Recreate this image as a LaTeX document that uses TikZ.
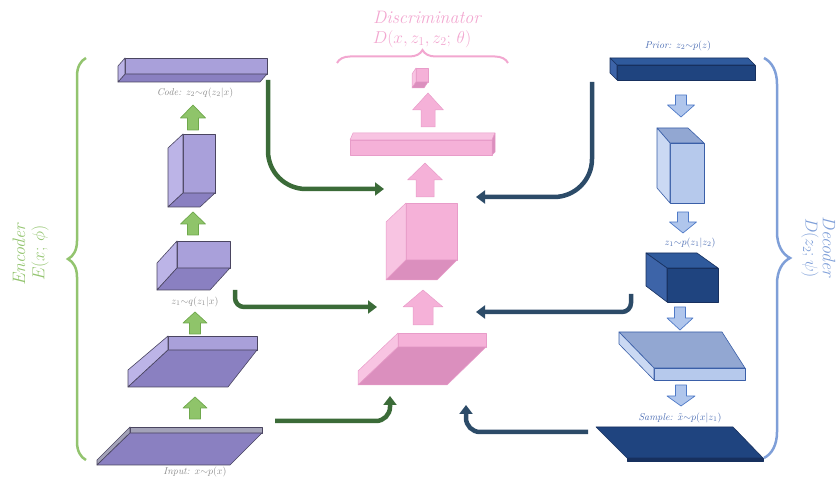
\documentclass[tikz,border=0pt]{standalone}
\usetikzlibrary{arrows.meta,decorations.pathreplacing}
\definecolor{encF}{HTML}{A9A0DA}
\definecolor{encD}{HTML}{8A80C1}
\definecolor{encL}{HTML}{BCB4E7}
\definecolor{encO}{HTML}{4A4560}
\definecolor{encS}{HTML}{A3A2B8}
\definecolor{pkF}{HTML}{F5B1D8}
\definecolor{pkL}{HTML}{F8C4E2}
\definecolor{pkD}{HTML}{DB8FBE}
\definecolor{pkO}{HTML}{E89CC9}
\definecolor{grF}{HTML}{8FC46A}
\definecolor{grO}{HTML}{6FA84C}
\definecolor{blF}{HTML}{B0C6EC}
\definecolor{blO}{HTML}{4F7AC7}
\definecolor{navF}{HTML}{1F447F}
\definecolor{navT}{HTML}{2F5A9C}
\definecolor{navL}{HTML}{3D64A8}
\definecolor{navO}{HTML}{17305E}
\definecolor{ltF}{HTML}{B6C9EC}
\definecolor{ltT}{HTML}{92A7D2}
\definecolor{ltL}{HTML}{CBD9F3}
\definecolor{ltO}{HTML}{3A5FA8}
\definecolor{encConn}{HTML}{3B6B38}
\definecolor{decConn}{HTML}{2C4B68}
\definecolor{encText}{HTML}{93C46F}
\definecolor{decText}{HTML}{7F9FD8}
\definecolor{pinkText}{HTML}{F2A7D0}
\definecolor{grayText}{HTML}{8C8C8C}
\definecolor{blueText}{HTML}{4A6CB3}
\newcommand\blockarrow[7]{% cx, tip y, head base y, tail y, half head, half shaft, style
  \filldraw[#7] (#1,#2) -- (#1+#5,#3) -- (#1+#6,#3) -- (#1+#6,#4) -- (#1-#6,#4) -- (#1-#6,#3) -- (#1-#5,#3) -- cycle;}
\tikzset{
  encface/.style={draw=encO, line width=0.6pt, line join=round},
  pkface/.style={draw=pkO, line width=0.5pt, line join=round},
  navface/.style={draw=navO, line width=0.6pt, line join=round},
  ltface/.style={draw=ltO, line width=0.6pt, line join=round},
  grarrow/.style={fill=grF, draw=grO, line width=0.7pt, line join=round},
  pkarrow/.style={fill=pkF, draw=pkO, line width=0.5pt, line join=round},
  blarrow/.style={fill=blF, draw=blO, line width=0.7pt, line join=round},
  encconn/.style={draw=encConn, line width=4.5pt, -{Triangle[width=13pt,length=9pt]}},
  decconn/.style={draw=decConn, line width=4.5pt, -{Triangle[width=13pt,length=9pt]}},
  graylabel/.style={text=grayText, font=\fontsize{10}{11}\selectfont\itshape, inner sep=0pt},
  bluelabel/.style={text=blueText, font=\fontsize{10}{11}\selectfont\itshape, inner sep=0pt},
  bigtitle/.style={font=\fontsize{18}{20}\selectfont\itshape, inner sep=0pt},
}
\begin{document}
\begin{tikzpicture}[x=1pt,y=-1pt]
\useasboundingbox (0,0) rectangle (839,478);
% ================= ENCODER =================
% code bar
\filldraw[encface, fill=encF] (125,58) rectangle (267,74);
\filldraw[encface, fill=encD] (125,74) -- (267,74) -- (260,82) -- (118,82) -- cycle;
\filldraw[encface, fill=encL] (125,58) -- (125,74) -- (118,82) -- (118,66) -- cycle;
\node[graylabel] (codelab) at (195,93) {Code: $z_2{\sim}q(z_2|x)$};
% tall box
\filldraw[encface, fill=encF] (183,134) rectangle (215,193);
\filldraw[encface, fill=encL] (183,134) -- (183,193) -- (168,207) -- (168,148) -- cycle;
\filldraw[encface, fill=encD] (183,193) -- (215,193) -- (200,207) -- (168,207) -- cycle;
% z1 cube
\filldraw[encface, fill=encF] (177,241) rectangle (230,268);
\filldraw[encface, fill=encL] (177,241) -- (177,268) -- (157,290) -- (157,263) -- cycle;
\filldraw[encface, fill=encD] (177,268) -- (230,268) -- (210,290) -- (157,290) -- cycle;
\node[graylabel] (z1lab) at (195,302) {$z_1{\sim}q(z_1|x)$};
% middle slab
\filldraw[encface, fill=encF] (168,336) rectangle (257,350);
\filldraw[encface, fill=encL] (168,336) -- (168,350) -- (128,387) -- (128,370) -- cycle;
\filldraw[encface, fill=encD] (168,350) -- (257,350) -- (228,387) -- (128,387) -- cycle;
% input slab
\filldraw[encface, fill=encS] (130,427) rectangle (262,433);
\filldraw[encface, fill=encS] (130,427) -- (130,433) -- (97,465) -- (97,460) -- cycle;
\filldraw[encface, fill=encD] (130,433) -- (262,433) -- (230,465) -- (97,465) -- cycle;
\node[graylabel] (inlab) at (195,472) {Input: $x{\sim}p(x)$};
% green arrows
\blockarrow{193}{105}{118}{130}{12.5}{5.5}{grarrow}
\blockarrow{193}{212}{224}{235}{12.5}{5.5}{grarrow}
\blockarrow{195}{312}{323}{334}{12}{5.5}{grarrow}
\blockarrow{195}{397}{408}{419}{12}{5.5}{grarrow}
% encoder brace and title
\draw[encText, line width=2.5pt, decorate, decoration={brace, amplitude=18pt}] (86,460) -- (86,58);
\node[bigtitle, text=encText, rotate=90] (encname) at (19,255) {Encoder};
\node[bigtitle, text=encText, rotate=90] (encfun) at (40,253) {$E(x;\,\phi)$};
% ================= DISCRIMINATOR =================
\node[bigtitle, text=pinkText] (discname) at (427,17) {Discriminator};
\node[bigtitle, text=pinkText] (discfun) at (422,39) {$D(x, z_1, z_2;\,\theta)$};
\draw[pinkText, line width=2pt, decorate, decoration={brace, amplitude=13pt}] (337,63) -- (508,63);
% small cube
\filldraw[pkface, fill=pkF] (416,68) rectangle (428,82);
\filldraw[pkface, fill=pkL] (416,68) -- (416,82) -- (412,88) -- (412,74) -- cycle;
\filldraw[pkface, fill=pkD] (416,82) -- (428,82) -- (424,88) -- (412,88) -- cycle;
% long bar
\filldraw[pkface, fill=pkL] (353,133) -- (495,133) -- (492,140) -- (350,140) -- cycle;
\filldraw[pkface, fill=pkF] (350,140) rectangle (492,155);
\filldraw[pkface, fill=pkD] (492,140) -- (495,133) -- (495,152) -- (492,155) -- cycle;
% cube
\filldraw[pkface, fill=pkF] (406,203) rectangle (457,260);
\filldraw[pkface, fill=pkL] (406,203) -- (406,260) -- (386,280) -- (386,222) -- cycle;
\filldraw[pkface, fill=pkD] (406,260) -- (457,260) -- (437,280) -- (386,280) -- cycle;
% slab
\filldraw[pkface, fill=pkF] (398,333) rectangle (486,347);
\filldraw[pkface, fill=pkL] (398,333) -- (398,347) -- (358,385) -- (358,371) -- cycle;
\filldraw[pkface, fill=pkD] (398,347) -- (486,347) -- (447,385) -- (358,385) -- cycle;
% pink arrows
\blockarrow{428}{93}{110}{127}{15.5}{7}{pkarrow}
\blockarrow{425}{163}{180}{197}{17.5}{9}{pkarrow}
\blockarrow{423}{290}{307}{325}{20}{10}{pkarrow}
% ================= DECODER =================
\node[bluelabel] (priorlab) at (678,46) {Prior: $z_2{\sim}p(z)$};
% prior bar
\filldraw[navface, fill=navT] (610,58) -- (748,58) -- (755,65) -- (617,65) -- cycle;
\filldraw[navface, fill=navF] (617,65) rectangle (755,80);
\filldraw[navface, fill=navL] (610,58) -- (617,65) -- (617,80) -- (610,73) -- cycle;
% tall box
\filldraw[ltface, fill=ltT] (657,128) -- (688,128) -- (704,143) -- (670,143) -- cycle;
\filldraw[ltface, fill=ltF] (670,143) rectangle (704,203);
\filldraw[ltface, fill=ltL] (657,128) -- (670,143) -- (670,203) -- (657,188) -- cycle;
\node[bluelabel] (z1plab) at (690,243) {$z_1{\sim}p(z_1|z_2)$};
% dark cube
\filldraw[navface, fill=navT] (646,253) -- (697,253) -- (718,268) -- (667,268) -- cycle;
\filldraw[navface, fill=navF] (667,268) rectangle (718,302);
\filldraw[navface, fill=navL] (646,253) -- (667,268) -- (667,302) -- (646,286) -- cycle;
% light slab
\filldraw[ltface, fill=ltT] (619,332) -- (722,332) -- (745,368) -- (654,368) -- cycle;
\filldraw[ltface, fill=ltF] (654,368) rectangle (745,380);
\filldraw[ltface, fill=ltL] (619,332) -- (654,368) -- (654,380) -- (619,344) -- cycle;
\node[bluelabel] (samplab) at (680,418) {Sample: $\tilde{x}{\sim}p(x|z_1)$};
% sample slab
\filldraw[navface, fill=navF] (596,427) -- (733,427) -- (763,458) -- (627,458) -- cycle;
\filldraw[navface, fill=navO] (627,458) -- (763,458) -- (763,461) -- (627,461) -- cycle;
% blue arrows
\blockarrow{681}{117}{105}{95}{13.5}{5.5}{blarrow}
\blockarrow{683}{233}{222}{212}{13.5}{5.5}{blarrow}
\blockarrow{680}{330}{318}{307}{13}{5.5}{blarrow}
\blockarrow{681}{406}{396}{385}{14}{5.5}{blarrow}
% decoder brace and title
\draw[decText, line width=2.5pt, decorate, decoration={brace, amplitude=26pt}] (764,58) -- (764,458);
\node[bigtitle, text=decText, rotate=-90] (decname) at (829,247) {Decoder};
\node[bigtitle, text=decText, rotate=-90] (decfun) at (810,248) {$D(z_2;\psi)$};
% ================= CONNECTORS =================
\coordinate (c1s) at (268,80);
\coordinate (c1e) at (384,189);
\coordinate (c2s) at (235,290);
\coordinate (c2e) at (377,307);
\coordinate (c3s) at (275,421);
\coordinate (c3e) at (390,396);
\coordinate (c4s) at (592,82);
\coordinate (c4e) at (476,197);
\coordinate (c5s) at (631,294);
\coordinate (c5e) at (476,312);
\coordinate (c6s) at (588,432);
\coordinate (c6e) at (466,405);
\draw[encconn, rounded corners=38pt] (c1s) |- (c1e);
\draw[encconn, rounded corners=9pt] (c2s) |- (c2e);
\draw[encconn, rounded corners=14pt] (c3s) -| (c3e);
\draw[decconn, rounded corners=38pt] (c4s) |- (c4e);
\draw[decconn, rounded corners=9pt] (c5s) |- (c5e);
\draw[decconn, rounded corners=14pt] (c6s) -| (c6e);
\end{tikzpicture}
\end{document}
